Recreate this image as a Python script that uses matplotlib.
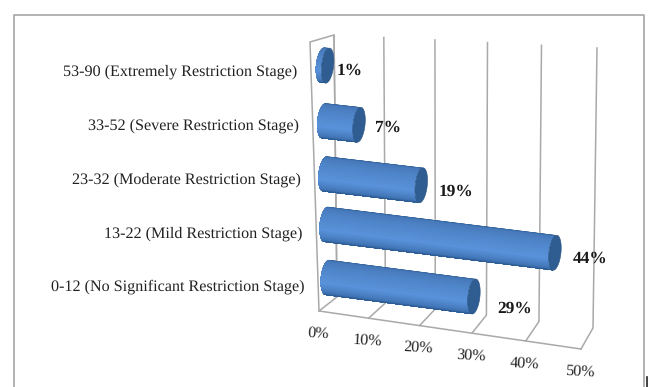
import numpy as np
import matplotlib
matplotlib.use("Agg")
import matplotlib.pyplot as plt
from matplotlib.colors import LinearSegmentedColormap
from matplotlib.patches import Polygon

# Bottom row of the chart comes first
categories = [
    "0-12 (No Significant Restriction Stage)",
    "13-22 (Mild Restriction Stage)",
    "23-32 (Moderate Restriction Stage)",
    "33-52 (Severe Restriction Stage)",
    "53-90 (Extremely Restriction Stage)",
]
values = [29, 44, 19, 7, 1]
ticks = [0, 10, 20, 30, 40, 50]

# Height of each row on the wall, and pixel offset of each value label from its bar end
rows = [0.1, 0.3, 0.49, 0.69, 0.9]
label_nudge = [(41, 12), (35, 6), (35, 6), (29, 3), (22, 5)]

# Corners of the 3D box on the canvas, as [depth][height][far end of value axis]
corners = np.array([
    [[(319, 311), (581, 349)], [(310, 42), (586, 85)]],
    [[(337, 297), (593, 328)], [(334, 35), (597, 48)]],
], dtype=float)

grid_color = "#a9a9a9"
bar_up = np.array([2.0, -17.5])
bar_bulge = 6.5
bar_cmap = LinearSegmentedColormap.from_list(
    "bar", [(0, "#2c5a90"), (0.12, "#4679ba"), (0.6, "#5a93db"), (0.85, "#3f72b2"), (1, "#224c7c")]
)


def project(value, depth, height):
    # Value axis has a little perspective, so it stretches towards the right
    u = value / ticks[-1]
    u = u / (1 + 0.07 * (1 - u))
    box = corners[0] * (1 - depth) + corners[1] * depth
    low = box[0][0] * (1 - u) + box[0][1] * u
    high = box[1][0] * (1 - u) + box[1][1] * u
    return low * (1 - height) + high * height


def draw_bar(ax, value, height):
    start = project(0, 0.5, height)
    end = project(value, 0.5, height)
    axis = (end - start) / np.linalg.norm(end - start)

    # Curved surface: paint from the top down, each piece covering the rest of the
    # cylinder, so no seams show between shades
    angles = np.linspace(0, np.pi, 61)
    rim = np.outer(np.cos(angles), bar_up) - np.outer(np.sin(angles), axis * bar_bulge)
    for i in range(len(angles) - 1):
        left = start + rim[i:]
        right = end + rim[i:]
        shade = bar_cmap(angles[i] / np.pi)
        ax.add_patch(Polygon(np.vstack([left, right[::-1]]), closed=True, facecolor=shade,
                             edgecolor="none", zorder=3))

    # End cap
    t = np.linspace(0, 2 * np.pi, 80)
    cap = end + np.outer(np.cos(t), bar_up) + np.outer(np.sin(t), axis * bar_bulge * 0.92)
    ax.add_patch(Polygon(cap, closed=True, facecolor="#2f5c91", edgecolor="#2a5485", linewidth=0.4, zorder=4))
    return end


plt.rcParams["font.family"] = ["Liberation Serif", "DejaVu Serif"]
plt.rcParams["text.hinting"] = "none"
fig = plt.figure(figsize=(6.5, 3.87), dpi=100)
ax = fig.add_axes([0, 0, 1, 1])
ax.set_xlim(0, 650)
ax.set_ylim(387, 0)
ax.axis("off")

# Outer frame of the chart area
ax.plot([14, 14, 644, 644], [387, 15, 15, 387], color="#a6a6a6", lw=1.2, zorder=1)
ax.plot([647, 647], [377, 387], color="#222222", lw=1.2, zorder=1)

# Left wall
wall = [project(0, 0, 0), project(0, 0, 1), project(0, 1, 1), project(0, 1, 0)]
ax.add_patch(Polygon(wall, closed=False, fill=False, edgecolor=grid_color, lw=1.1, zorder=2))

# Floor and back wall lines
floor_front = np.array([project(0, 0, 0), project(ticks[-1], 0, 0)])
ax.plot(floor_front[:, 0], floor_front[:, 1], color=grid_color, lw=1.1, zorder=2)
for tick in ticks:
    a = project(tick, 0, 0)
    b = project(tick, 1, 0)
    c = project(tick, 1, 1)
    ax.plot([a[0], b[0], c[0]], [a[1], b[1], c[1]], color=grid_color, lw=1.1, zorder=2)
    ax.text(a[0] - 1, a[1] + 22.5, f"{tick}%", ha="center", va="center", fontsize=11.5,
            rotation=-3, color="#222222", zorder=5)

# Bars with their labels
for i, (name, value) in enumerate(zip(categories, values)):
    end = draw_bar(ax, value, rows[i])
    dx, dy = label_nudge[i]
    ax.text(end[0] + dx, end[1] + dy, f"{value}%", ha="center", va="center", fontsize=12.5,
            fontweight="bold", color="#1a1a1a", zorder=5)
    height = (i + 0.5) / len(categories)
    edge = project(0, 0, height)
    ax.text(edge[0] - 14, edge[1] + 3, name, ha="right", va="center", fontsize=11.6,
            color="#222222", zorder=5)

fig.savefig("out.png", dpi=100, facecolor="white")
